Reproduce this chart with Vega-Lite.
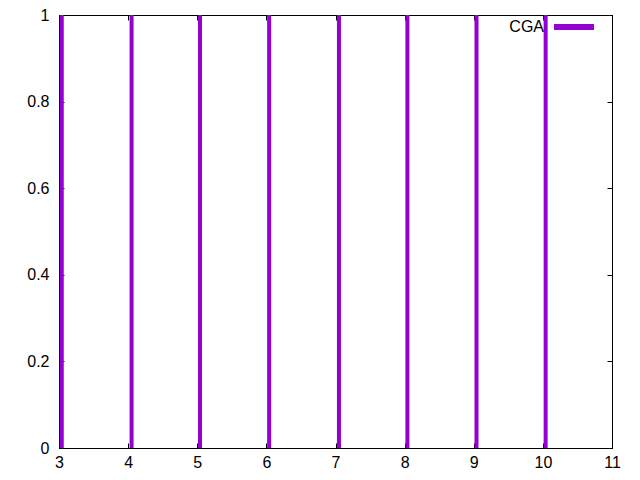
{
  "$schema": "https://vega.github.io/schema/vega-lite/v6.json",
  "width": 553,
  "height": 433,
  "autosize": "none",
  "padding": {"left": 59, "top": 15, "right": 28, "bottom": 32},
  "background": "white",
  "config": {
    "view": {"stroke": "black", "strokeWidth": 1},
    "font": "Liberation Sans",
    "axis": {
      "grid": false,
      "domainColor": "black",
      "tickColor": "black",
      "tickSize": -5,
      "labelColor": "black",
      "labelFont": "Liberation Sans",
      "labelFontSize": 16,
      "labelFlush": false,
      "labelOverlap": false,
      "title": null
    }
  },
  "data": {
    "values": [
      {"x": 3.04, "y": 0, "y2": 1, "series": "CGA"},
      {"x": 4.05, "y": 0, "y2": 1, "series": "CGA"},
      {"x": 5.04, "y": 0, "y2": 1, "series": "CGA"},
      {"x": 6.04, "y": 0, "y2": 1, "series": "CGA"},
      {"x": 7.05, "y": 0, "y2": 1, "series": "CGA"},
      {"x": 8.04, "y": 0, "y2": 1, "series": "CGA"},
      {"x": 9.04, "y": 0, "y2": 1, "series": "CGA"},
      {"x": 10.04, "y": 0, "y2": 1, "series": "CGA"}
    ]
  },
  "layer": [
    {
      "mark": {"type": "rule", "strokeWidth": 4},
      "encoding": {
        "x": {
          "field": "x", "type": "quantitative",
          "scale": {"domain": [3, 11], "nice": false, "zero": false},
          "axis": {"orient": "bottom", "values": [3, 4, 5, 6, 7, 8, 9, 10, 11], "labelPadding": 11, "format": "d"}
        },
        "y": {
          "field": "y", "type": "quantitative",
          "scale": {"domain": [0, 1], "nice": false},
          "axis": {"orient": "left", "values": [0, 0.2, 0.4, 0.6, 0.8, 1], "labelPadding": 15, "format": ".1~f"}
        },
        "y2": {"field": "y2"},
        "color": {
          "field": "series", "type": "nominal",
          "scale": {"range": ["#9400D3"]},
          "legend": {
            "title": null,
            "orient": "none",
            "legendX": 492,
            "legendY": -11,
            "symbolType": "stroke",
            "symbolSize": 1600,
            "symbolStrokeWidth": 6,
            "labelAlign": "right",
            "labelOffset": -53,
            "labelFont": "Liberation Sans",
            "labelFontSize": 16,
            "labelColor": "black"
          }
        }
      }
    },
    {
      "mark": {"type": "rule", "opacity": 0},
      "encoding": {
        "x": {
          "field": "x", "type": "quantitative",
          "axis": {"orient": "top", "values": [3, 4, 5, 6, 7, 8, 9, 10, 11], "labels": false}
        },
        "y": {
          "field": "y", "type": "quantitative",
          "axis": {"orient": "right", "values": [0, 0.2, 0.4, 0.6, 0.8, 1], "labels": false}
        },
        "y2": {"field": "y2"}
      }
    }
  ],
  "resolve": {"axis": {"x": "independent", "y": "independent"}}
}
